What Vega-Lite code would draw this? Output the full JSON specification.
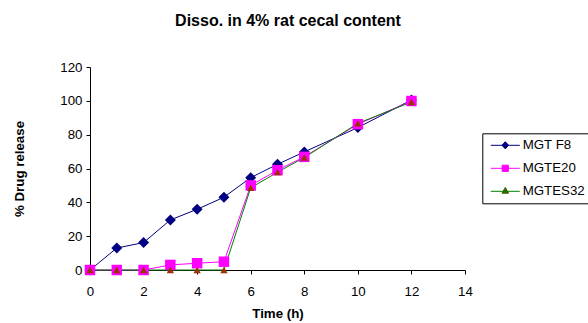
{
  "$schema": "https://vega.github.io/schema/vega-lite/v6.json",
  "width": 375,
  "height": 203,
  "autosize": {"type": "none"},
  "padding": {"left": 90, "top": 67, "right": 123, "bottom": 53},
  "background": "white",
  "title": {
    "text": "Disso. in 4% rat cecal content",
    "font": "Liberation Sans",
    "fontSize": 16,
    "fontWeight": "bold",
    "color": "black",
    "anchor": "middle",
    "frame": "group",
    "dx": 10.5,
    "baseline": "alphabetic",
    "offset": 18
  },
  "data": {
    "values": [
      {"time": 0, "release": 0, "series": "MGT F8"},
      {"time": 1, "release": 13.0, "series": "MGT F8"},
      {"time": 2, "release": 16.2, "series": "MGT F8"},
      {"time": 3, "release": 29.6, "series": "MGT F8"},
      {"time": 4, "release": 35.9, "series": "MGT F8"},
      {"time": 5, "release": 43.0, "series": "MGT F8"},
      {"time": 6, "release": 54.6, "series": "MGT F8"},
      {"time": 7, "release": 62.5, "series": "MGT F8"},
      {"time": 8, "release": 69.8, "series": "MGT F8"},
      {"time": 10, "release": 84.2, "series": "MGT F8"},
      {"time": 12, "release": 100.5, "series": "MGT F8"},
      {"time": 0, "release": 0, "series": "MGTE20"},
      {"time": 1, "release": 0, "series": "MGTE20"},
      {"time": 2, "release": 0, "series": "MGTE20"},
      {"time": 3, "release": 3.0, "series": "MGTE20"},
      {"time": 4, "release": 4.0, "series": "MGTE20"},
      {"time": 5, "release": 4.9, "series": "MGTE20"},
      {"time": 6, "release": 50.0, "series": "MGTE20"},
      {"time": 7, "release": 59.0, "series": "MGTE20"},
      {"time": 8, "release": 66.9, "series": "MGTE20"},
      {"time": 10, "release": 86.2, "series": "MGTE20"},
      {"time": 12, "release": 99.9, "series": "MGTE20"},
      {"time": 0, "release": 0, "series": "MGTES32"},
      {"time": 1, "release": 0, "series": "MGTES32"},
      {"time": 2, "release": 0, "series": "MGTES32"},
      {"time": 3, "release": 0, "series": "MGTES32"},
      {"time": 4, "release": 0, "series": "MGTES32"},
      {"time": 5, "release": 0, "series": "MGTES32"},
      {"time": 6, "release": 48.6, "series": "MGTES32"},
      {"time": 7, "release": 57.8, "series": "MGTES32"},
      {"time": 8, "release": 66.5, "series": "MGTES32"},
      {"time": 10, "release": 86.7, "series": "MGTES32"},
      {"time": 12, "release": 99.3, "series": "MGTES32"}
    ]
  },
  "config": {
    "view": {"stroke": null},
    "font": "Liberation Sans",
    "axis": {
      "domainColor": "black",
      "domainWidth": 1,
      "tickColor": "black",
      "tickWidth": 1,
      "tickSize": 4,
      "grid": false,
      "labelColor": "black",
      "labelFont": "Liberation Sans",
      "labelFontSize": 13.3,
      "labelFlush": false,
      "labelOverlap": false,
      "titleColor": "black",
      "titleFont": "Liberation Sans",
      "titleFontSize": 13.3,
      "titleFontWeight": "bold"
    },
    "legend": {
      "orient": "none",
      "legendX": 392.3,
      "legendY": 66.3,
      "title": null,
      "symbolSize": 100,
      "symbolStrokeWidth": 1,
      "symbolOpacity": 1,
      "symbolOffset": 12.35,
      "padding": 4,
      "clipHeight": 16,
      "rowPadding": 7,
      "labelOffset": 10.75,
      "labelFont": "Liberation Sans",
      "labelFontSize": 13.3,
      "labelColor": "black",
      "labelLimit": 200,
      "strokeColor": "black"
    }
  },
  "encoding": {
    "x": {
      "field": "time",
      "type": "quantitative",
      "scale": {"domain": [0, 14], "nice": false},
      "axis": {
        "title": "Time (h)",
        "values": [0, 2, 4, 6, 8, 10, 12, 14],
        "labelBaseline": "alphabetic",
        "labelPadding": 21,
        "titleX": 187.5,
        "titleY": 47.3,
        "titleAlign": "center",
        "titleBaseline": "alphabetic"
      }
    },
    "y": {
      "field": "release",
      "type": "quantitative",
      "scale": {"domain": [0, 120], "nice": false},
      "axis": {
        "title": "% Drug release",
        "values": [0, 20, 40, 60, 80, 100, 120],
        "labelPadding": 4,
        "titleAngle": -90,
        "titleX": -66.7,
        "titleY": 101.5,
        "titleAlign": "center",
        "titleBaseline": "alphabetic"
      }
    }
  },
  "layer": [
    {
      "mark": {"type": "line", "strokeWidth": 1},
      "encoding": {
        "color": {
          "field": "series",
          "type": "nominal",
          "scale": {"range": ["#000080", "#FF00FF", "#008000"]},
          "legend": null
        }
      }
    },
    {
      "transform": [{"filter": "datum.series === 'MGT F8'"}],
      "mark": {"type": "point", "shape": "diamond", "filled": true, "fill": "#000080", "size": 121, "opacity": 1, "strokeWidth": 0}
    },
    {
      "transform": [{"filter": "datum.series === 'MGTE20'"}],
      "mark": {"type": "point", "shape": "square", "filled": true, "fill": "#FF00FF", "size": 110, "opacity": 1, "strokeWidth": 0}
    },
    {
      "transform": [{"filter": "datum.series === 'MGTES32'"}],
      "mark": {"type": "point", "shape": "triangle-up", "filled": true, "fill": "#993300", "size": 53, "opacity": 1, "strokeWidth": 0}
    },
    {
      "mark": {"type": "point", "filled": true, "opacity": 0, "strokeWidth": 1},
      "encoding": {
        "shape": {
          "field": "series",
          "type": "nominal",
          "scale": {
            "range": [
              "M-2.9,0H2.9M-0.66,0L0,-0.72L0.66,0L0,0.72Z",
              "M-2.9,0H2.9M-0.62,-0.62H0.62V0.62H-0.62Z",
              "M-2.9,0H2.9M0,-0.78L0.66,0.38L-0.66,0.38Z"
            ]
          }
        },
        "fill": {
          "field": "series",
          "type": "nominal",
          "scale": {"range": ["#000080", "#FF00FF", "#993300"]}
        },
        "stroke": {
          "field": "series",
          "type": "nominal",
          "scale": {"range": ["#000080", "#FF00FF", "#008000"]}
        }
      }
    }
  ]
}
